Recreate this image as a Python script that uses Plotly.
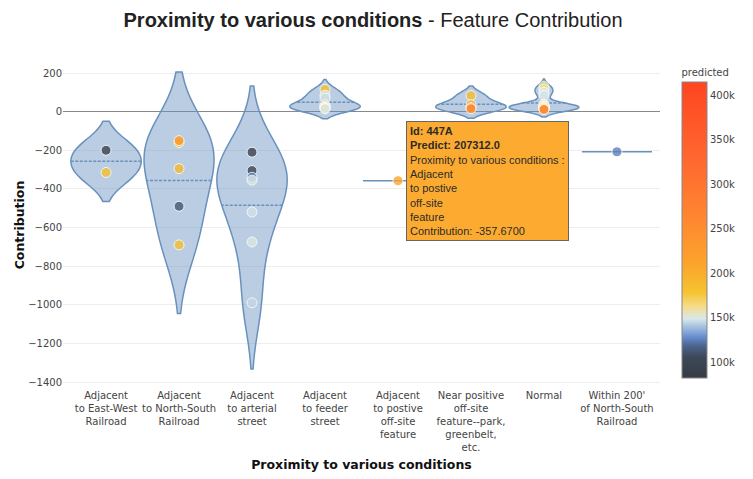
import plotly.graph_objects as go

# ---- data -----------------------------------------------------------------
categories = [
    "Adjacent<br>to East-West<br>Railroad",
    "Adjacent<br>to North-South<br>Railroad",
    "Adjacent<br>to arterial<br>street",
    "Adjacent<br>to feeder<br>street",
    "Adjacent<br>to postive<br>off-site<br>feature",
    "Near positive<br>off-site<br>feature--park,<br>greenbelt,<br>etc.",
    "Normal",
    "Within 200'<br>of North-South<br>Railroad",
]

# category index of every point
point_category = [
    0, 0,
    1, 1, 1, 1, 1,
    2, 2, 2, 2, 2, 2, 2,
    3, 3, 3, 3, 3, 3, 3, 3,
    4,
    5, 5, 5, 5,
    6, 6, 6, 6, 6, 6, 6, 6, 6, 6, 6, 6, 6, 6, 6, 6,
    7,
]
# feature contribution of every point
point_contribution = [
    -200, -315,
    -160, -150, -295, -490, -690,
    -210, -305, -340, -355, -520, -675, -990,
    115, 85, 70, 35, 28, 22, 18, 15,
    -357.67,
    83, 36, 21, 15,
    130, 118, 100, 85, 38, 34, 30, 27, 25, 23, 21, 19, 17, 15, 13, 11,
    -208,
]
# predicted value of every point
point_predicted = [
    98000, 182000,
    180000, 232000, 190000, 112000, 182000,
    97000, 104000, 126000, 150000, 147000, 150000, 145000,
    182000, 150000, 146000, 186000, 153000, 150000, 148000, 152000,
    207312,
    186000, 205000, 216000, 262000,
    176000, 155000, 150000, 148000, 190000, 185000, 205000, 200000, 210000, 195000,
    220000, 215000, 230000, 225000, 240000, 250000,
    125000,
]

hover_id = "447A"
hover_index = 22

color_min = 82000
color_max = 415000

colorscale = [
    [0.00, "#363c44"],
    [0.07, "#3d4756"],
    [0.11, "#4c6690"],
    [0.14, "#6a8fd2"],
    [0.175, "#a8c4dc"],
    [0.20, "#d8e8ec"],
    [0.24, "#f6dc8c"],
    [0.29, "#f5c330"],
    [0.38, "#fca52c"],
    [0.55, "#ff8530"],
    [0.75, "#ff6630"],
    [1.00, "#ff4520"],
]

x_vals = [categories[i] for i in point_category]

fig = go.Figure()

for ci, cat in enumerate(categories):
    ys = [v for k, v in zip(point_category, point_contribution) if k == ci]
    fig.add_trace(go.Violin(
        x=[cat] * len(ys),
        y=ys,
        name=cat,
        points=False,
        meanline_visible=True,
        line=dict(color="rgb(105,145,190)", width=1.5),
        fillcolor="rgba(105,145,190,0.45)",
        width=0.96,
        spanmode="soft",
        scalemode="width",
        hoverinfo="skip",
        showlegend=False,
    ))

fig.add_trace(go.Scatter(
    x=x_vals,
    y=point_contribution,
    mode="markers",
    marker=dict(
        color=point_predicted,
        colorscale=colorscale,
        cmin=color_min,
        cmax=color_max,
        size=10,
        opacity=0.8,
        line=dict(color="white", width=1),
        colorbar=dict(
            title=dict(text="predicted", side="top", font=dict(size=10, color="#444")),
            thickness=25,
            len=1.018,
            y=0, yanchor="bottom",
            ypad=10,
            tick0=0,
            dtick=50000,
            tickformat="~s",
            tickfont=dict(size=10, color="#444"),
            outlinecolor="#888",
            outlinewidth=1,
        ),
    ),
    showlegend=False,
    hoverinfo="skip",
))

# hover-style label for the highlighted point
hcat = categories[point_category[hover_index]]
hover_text = (
    f"<b>Id: {hover_id}</b><br>"
    f"<b>Predict: {point_predicted[hover_index]:.1f}</b><br>"
    f"Proximity to various conditions :<br>{hcat}<br>"
    f"Contribution: {point_contribution[hover_index]:.4f}"
)
fig.add_annotation(
    x=hcat, y=point_contribution[hover_index],
    xref="x", yref="y",
    text=hover_text,
    showarrow=False,
    xanchor="left", yanchor="middle",
    xshift=8,
    align="left",
    bgcolor="#fcab30",
    bordercolor="#666",
    borderwidth=1,
    borderpad=3,
    font=dict(family="Arial, Liberation Sans, sans-serif", size=11, color="#2b2b2b"),
)

fig.update_layout(
    width=745, height=471,
    margin=dict(l=55, r=93, t=54, b=91, autoexpand=False),
    paper_bgcolor="white",
    plot_bgcolor="white",
    font=dict(family="Verdana, DejaVu Sans, sans-serif", size=10, color="#444"),
    title=dict(
        text="<b>Proximity to various conditions</b> - Feature Contribution",
        x=0.49, xanchor="center",
        y=0.9745, yanchor="middle", yref="container",
        font=dict(family="Arial, Liberation Sans, sans-serif", size=20, color="#222"),
    ),
    violinmode="overlay",
    hovermode="closest",
)

fig.update_xaxes(
    type="category",
    categoryorder="array",
    categoryarray=categories,
    range=[-0.59, 7.59],
    showgrid=False,
    zeroline=False,
    automargin=False,
    tickfont=dict(size=10, color="#444"),
    title=dict(text="<b>Proximity to various conditions</b>", standoff=8,
               font=dict(size=12.5, color="#111")),
)
fig.update_yaxes(
    range=[-1431, 257],
    dtick=200,
    showgrid=True,
    gridcolor="#eeeeee",
    zeroline=True,
    zerolinecolor="#888888",
    zerolinewidth=1,
    automargin=False,
    tickfont=dict(size=10, color="#444"),
    title=dict(text="<b>Contribution</b>", standoff=0,
               font=dict(size=12.5, color="#111")),
)

fig.write_html("out.html")
